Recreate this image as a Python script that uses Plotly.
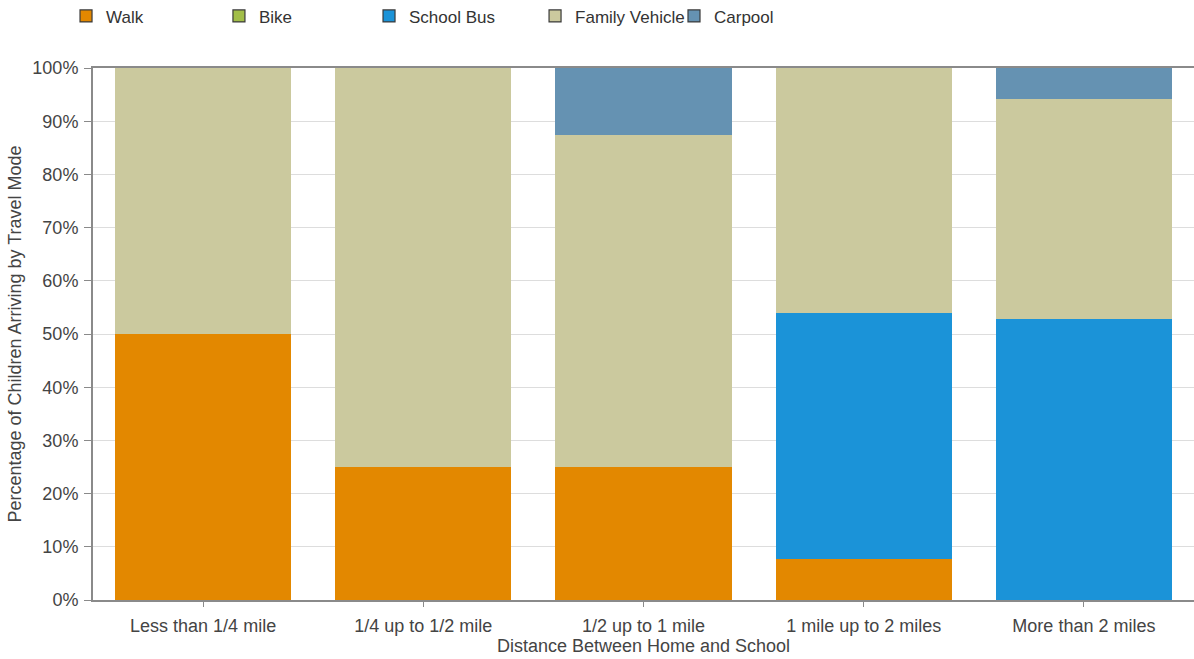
import plotly.graph_objects as go

categories = ["Less than 1/4 mile", "1/4 up to 1/2 mile", "1/2 up to 1 mile",
              "1 mile up to 2 miles", "More than 2 miles"]
walk = [50.0, 25.0, 25.0, 7.7, 0.0]
bike = [0.0, 0.0, 0.0, 0.0, 0.0]
school_bus = [0.0, 0.0, 0.0, 46.2, 52.9]
family_vehicle = [50.0, 75.0, 62.5, 46.1, 41.2]
carpool = [0.0, 0.0, 12.5, 0.0, 5.9]
y_ticks = [0, 10, 20, 30, 40, 50, 60, 70, 80, 90, 100]
y_tick_labels = [f"{v}%" for v in y_ticks]

# name, values, fill colour, legend id, legend x (paper units)
series = [
    ("Walk", walk, "#E38800", "legend", -0.0245),
    ("Bike", bike, "#A2BE48", "legend2", 0.1144),
    ("School Bus", school_bus, "#1B93D8", "legend3", 0.2507),
    ("Family Vehicle", family_vehicle, "#CBC99E", "legend4", 0.4015),
    ("Carpool", carpool, "#6592B2", "legend5", 0.5277),
]

FONT_FAMILY = "Liberation Sans, Arial, sans-serif"
TEXT_COLOR = "#444444"

fig = go.Figure()
for name, vals, color, leg, _ in series:
    fig.add_trace(go.Bar(
        x=categories, y=vals, name=name, legendgroup=name, showlegend=False,
        marker=dict(color=color, line=dict(width=0)),
    ))
    # legend swatch with a dark outline
    fig.add_trace(go.Scatter(
        x=[None], y=[None], mode="markers", name=name, legendgroup=name,
        legend=leg, showlegend=True, hoverinfo="skip",
        marker=dict(symbol="square", size=12, color=color,
                    line=dict(color="#3a3a3a", width=1.2)),
    ))

legend_common = dict(orientation="h", yanchor="middle", y=1.097, xanchor="left",
                     bgcolor="rgba(0,0,0,0)",
                     font=dict(family=FONT_FAMILY, size=17, color="#333333"),
                     itemwidth=30)
layout_legends = {leg: dict(legend_common, x=xpos) for _, _, _, leg, xpos in series}

fig.update_layout(
    barmode="stack",
    bargap=0.2,
    width=1194, height=659,
    margin=dict(l=93, r=0, t=68, b=59, autoexpand=False),
    paper_bgcolor="white",
    plot_bgcolor="white",
    font=dict(family=FONT_FAMILY, size=18, color=TEXT_COLOR),
    showlegend=True,
    **layout_legends,
    xaxis=dict(
        showline=True, linecolor="#8a8a8a", linewidth=2, mirror=True,
        ticks="outside", ticklen=5, tickcolor="#8a8a8a", ticklabelstandoff=3,
        tickfont=dict(size=18, color=TEXT_COLOR),
        title=dict(text="Distance Between Home and School", standoff=4,
                   font=dict(size=18, color=TEXT_COLOR)),
        showgrid=False, automargin=False,
    ),
    yaxis=dict(
        range=[0, 100], tickmode="array", tickvals=y_ticks, ticktext=y_tick_labels,
        showline=True, linecolor="#8a8a8a", linewidth=2,
        ticks="outside", ticklen=7, tickcolor="#8a8a8a", ticklabelstandoff=2,
        showgrid=True, gridcolor="#dddddd", gridwidth=1,
        tickfont=dict(size=18, color=TEXT_COLOR),
        title=dict(text="Percentage of Children Arriving by Travel Mode", standoff=6,
                   font=dict(size=18, color=TEXT_COLOR)),
        zeroline=False, automargin=False,
    ),
)

fig.write_html("out.html")
